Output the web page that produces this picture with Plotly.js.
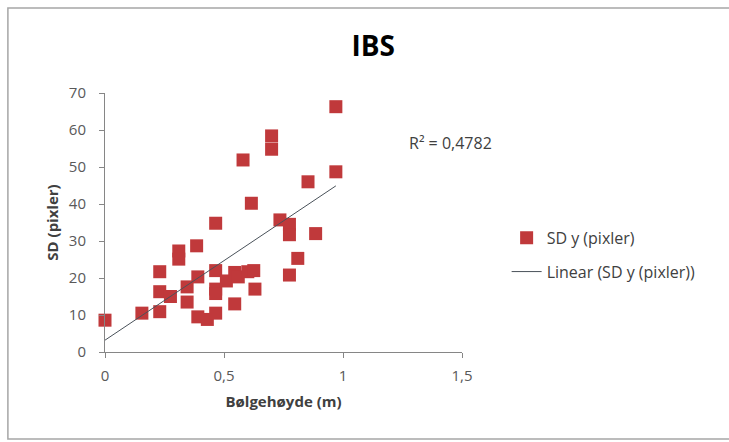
<!DOCTYPE html>
<html>
<head>
<meta charset="utf-8">
<script src="https://cdn.plot.ly/plotly-3.0.1.min.js"></script>
<style>
  body { margin: 0; background: #fff; }
  #plot { width: 729px; height: 442px; }
</style>
</head>
<body>
<div id="plot"></div>
<script>
// Bølgehøyde (m) vs SD y (pixler)
var waveHeight = [0, 0.155, 0.23, 0.23, 0.23, 0.275, 0.31, 0.31, 0.345, 0.345,
  0.385, 0.39, 0.39, 0.43, 0.465, 0.465, 0.465, 0.465, 0.465, 0.51,
  0.545, 0.545, 0.56, 0.58, 0.6, 0.625, 0.63, 0.615, 0.7, 0.7,
  0.735, 0.775, 0.775, 0.775, 0.81, 0.853, 0.885, 0.97, 0.97];
var sdY = [8.6, 10.5, 21.7, 16.3, 10.9, 15, 27.3, 25.1, 17.6, 13.5,
  28.7, 20.3, 9.5, 8.8, 34.8, 22, 17, 15.8, 10.5, 19.2,
  21.5, 13, 20.3, 51.9, 21.7, 22, 17, 40.2, 58.4, 54.8,
  35.7, 34.5, 31.7, 20.8, 25.3, 46, 32, 66.3, 48.7];

// linear trendline ends as drawn in the chart
var trendX = [0, 0.97];
var trendY = [3.2, 44.9];
var rSquared = "R² = 0,4782";

var xTicks = [0, 0.5, 1, 1.5];
var yTicks = [0, 10, 20, 30, 40, 50, 60, 70];

var font = "'Open Sans', Lato, sans-serif";

var scatter = {
  x: waveHeight,
  y: sdY,
  mode: "markers",
  type: "scatter",
  name: "SD y (pixler)",
  legendgroup: "a",
  cliponaxis: false,
  marker: { symbol: "square", size: 13, color: "#C0393B" }
};

var trend = {
  x: trendX,
  y: trendY,
  mode: "lines",
  type: "scatter",
  name: "Linear (SD y (pixler))",
  legendgroup: "b",
  line: { color: "#4a525a", width: 1 }
};

var layout = {
  width: 729,
  height: 442,
  margin: { l: 105, r: 267, t: 93, b: 90 },
  paper_bgcolor: "#fff",
  plot_bgcolor: "#fff",
  separators: ", ",
  font: { family: font, size: 15, color: "#404040" },
  title: {
    text: "<b>IBS</b>",
    font: { family: font, size: 28, color: "#000" },
    xref: "container", x: 0.512, xanchor: "center",
    yref: "container", y: 0.895, yanchor: "middle"
  },
  xaxis: {
    range: [0, 1.5],
    tickvals: xTicks,
    ticks: "outside", ticklen: 5, tickcolor: "#868686",
    ticklabelstandoff: 5,
    showline: true, linecolor: "#868686", linewidth: 1,
    showgrid: false, zeroline: false,
    tickfont: { size: 15, color: "#595959" },
    title: { text: "<b>Bølgehøyde (m)</b>", font: { size: 15, color: "#404040" }, standoff: 12 }
  },
  yaxis: {
    range: [0, 70],
    tickvals: yTicks,
    ticks: "outside", ticklen: 5, tickcolor: "#868686",
    ticklabelstandoff: 10,
    showline: true, linecolor: "#868686", linewidth: 1,
    showgrid: false, zeroline: false,
    tickfont: { size: 15, color: "#595959" },
    title: { text: "<b>SD (pixler)</b>", font: { size: 15, color: "#404040" }, standoff: 6 }
  },
  legend: {
    x: 1.125, y: 0.375, xanchor: "left", yanchor: "middle",
    traceorder: "grouped", tracegroupgap: 10,
    itemwidth: 30,
    font: { size: 16, color: "#404040" },
    bgcolor: "rgba(0,0,0,0)"
  },
  annotations: [{
    text: rSquared,
    xref: "x", yref: "y", x: 1.45, y: 56.5,
    xanchor: "center", yanchor: "middle",
    showarrow: false,
    font: { size: 16, color: "#404040" }
  }],
  shapes: [{
    type: "rect", xref: "paper", yref: "paper",
    x0: -0.272, x1: 1.8, y0: -0.336, y1: 1.328,
    line: { color: "#a6a6a6", width: 1.5 },
    layer: "below"
  }]
};

Plotly.newPlot("plot", [scatter, trend], layout, { displayModeBar: false });
</script>
</body>
</html>
